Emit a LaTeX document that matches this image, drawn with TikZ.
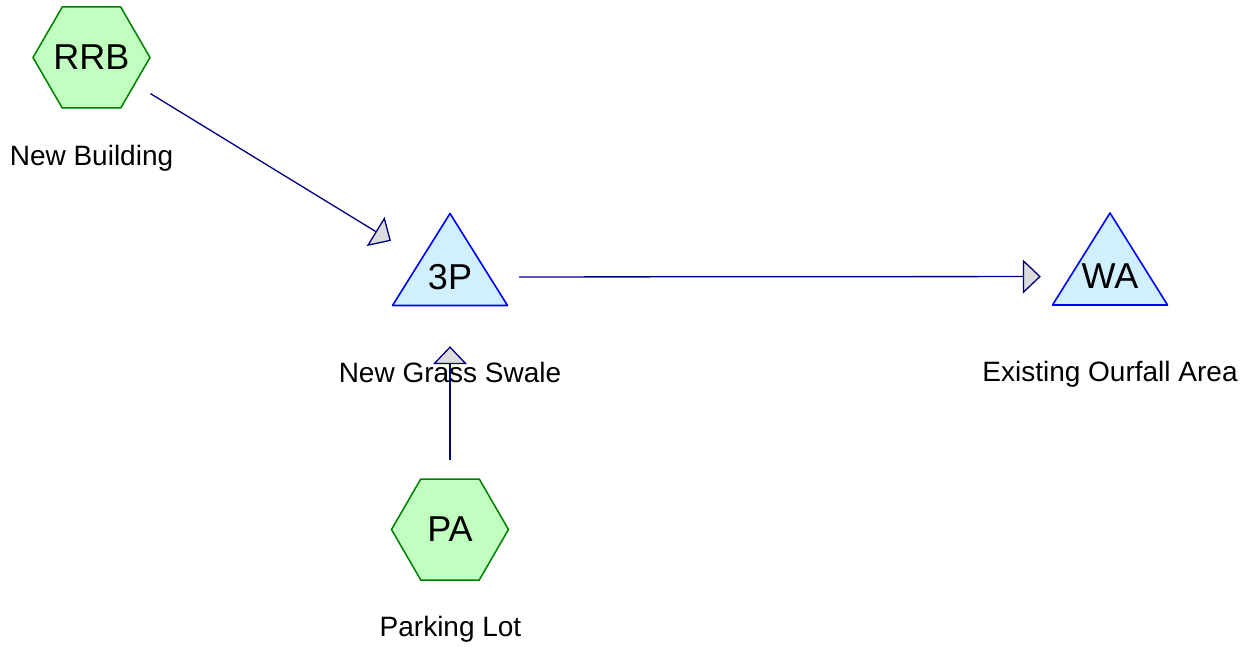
\documentclass[tikz,border=0pt]{standalone}
\usepackage{fontspec}
\setmainfont{Liberation Sans}
\usetikzlibrary{arrows.meta}

\definecolor{hexfill}{HTML}{C0FFC0}
\definecolor{hexline}{HTML}{008000}
\definecolor{trifill}{HTML}{D0F0FF}
\definecolor{triline}{HTML}{0000FF}
\definecolor{linkline}{HTML}{00007F}
\definecolor{tipfill}{HTML}{DCDCDC}

\tikzset{
  % every element sits in a 138pt circle, so links stop 69pt from centres
  element/.style={circle, minimum size=138pt, inner sep=0pt, draw=none,
    font=\fontsize{36}{40}\selectfont},
  subcatch/.style={element, path picture={
    \draw[draw=hexline, fill=hexfill, line width=1.5pt]
      (path picture bounding box.center)
      ++(-58.5pt,0pt) -- ++(29.25pt,50.5pt) -- ++(58.5pt,0pt)
      -- ++(29.25pt,-50.5pt) -- ++(-29.25pt,-50.5pt) -- ++(-58.5pt,0pt) -- cycle;}},
  pond/.style={element, path picture={
    \draw[draw=triline, fill=trifill, line width=1.6pt, line join=round]
      (path picture bounding box.center)
      ++(0pt,63.5pt) -- ++(57.5pt,-92pt) -- ++(-115pt,0pt) -- cycle;}},
  caption/.style={anchor=base, font=\fontsize{28}{32}\selectfont, inner sep=0pt},
  link/.style={draw=linkline, line width=1.3pt,
    -{Triangle[length=18pt, width=34pt, fill=tipfill, line width=1.3pt]}},
}

\begin{document}
\begin{tikzpicture}[x=1pt, y=-1pt]
  \useasboundingbox (0,0) rectangle (1252,647);

  % catchments and ponds
  \node[subcatch] (rrb) at (91.5,57.5)  {RRB};
  \node[pond]     (p3)  at (450,277)    {3P};
  \node[pond]     (wa)  at (1110,276.5) {WA};
  \node[subcatch] (pa)  at (450,529.5)  {PA};

  % captions
  \node[caption] (rrbcap) at (91.5,166)  {New Building};
  \node[caption] (p3cap)  at (450,382.5) {New Grass Swale};
  \node[caption] (wacap)  at (1110,381.7) {Existing Ourfall Area};
  \node[caption] (pacap)  at (450.5,636.7) {Parking Lot};

  % flow links
  \draw[link] (rrb) -- (p3);
  \draw[link] (p3) -- (wa);
  \draw[link] (pa) -- (p3);
\end{tikzpicture}
\end{document}
